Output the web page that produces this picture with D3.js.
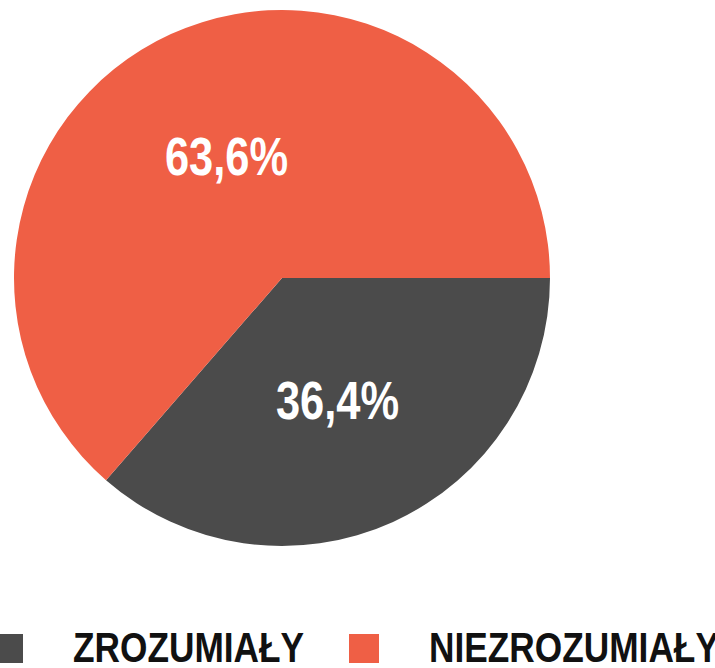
<!DOCTYPE html>
<html>
<head>
<meta charset="utf-8">
<script src="https://cdn.jsdelivr.net/npm/d3@7"></script>
<style>
  body { margin: 0; background: #fff; }
  text { font-family: "Liberation Sans", Arial, sans-serif; font-weight: bold; }
</style>
</head>
<body>
<div id="chart"></div>
<script>
// Data
var categories = ["ZROZUMIAŁY", "NIEZROZUMIAŁY"];
var values = [36.4, 63.6];
var labels = ["36,4%", "63,6%"];
var colors = ["#4b4b4b", "#ef5f45"];

var svgWidth = 715;
var svgHeight = 668;

// the original uses a narrow bold face, squeeze the text horizontally
var squeeze = 0.82;

var svg = d3.select("#chart")
    .append("svg")
    .attr("width", svgWidth)
    .attr("height", svgHeight);

var radius = 268;
var pieGroup = svg.append("g").attr("transform", "translate(282, 278)");

// pie starts at 3 o'clock, going clockwise
var pie = d3.pie()
    .sort(null)
    .startAngle(Math.PI / 2)
    .endAngle(Math.PI / 2 + 2 * Math.PI)
    .value(d => d);

var arc = d3.arc().innerRadius(0).outerRadius(radius);
var labelArc = d3.arc().innerRadius(radius * 0.5).outerRadius(radius * 0.5);

var arcs = pie(values);

pieGroup.selectAll("path")
    .data(arcs)
    .enter()
    .append("path")
    .attr("d", arc)
    .attr("fill", (d, i) => colors[i]);

pieGroup.selectAll(".sliceLabel")
    .data(arcs)
    .enter()
    .append("text")
    .attr("class", "sliceLabel")
    .attr("transform", d => `translate(${labelArc.centroid(d)}) scale(${squeeze}, 1)`)
    .attr("text-anchor", "middle")
    .attr("dy", "0.36em")
    .attr("fill", "#fff")
    .style("font-size", "53px")
    .text((d, i) => labels[i]);

// Legend
var legendX = [-7, 349];
var legend = svg.selectAll(".legend")
    .data(categories)
    .enter()
    .append("g")
    .attr("class", "legend")
    .attr("transform", (d, i) => `translate(${legendX[i]}, 634)`);

legend.append("rect")
    .attr("width", 30)
    .attr("height", 29)
    .attr("fill", (d, i) => colors[i]);

legend.append("text")
    .attr("transform", `translate(80, 28) scale(0.84, 1)`)
    .attr("fill", "#111")
    .style("font-size", "42px")
    .text(d => d);
</script>
</body>
</html>
